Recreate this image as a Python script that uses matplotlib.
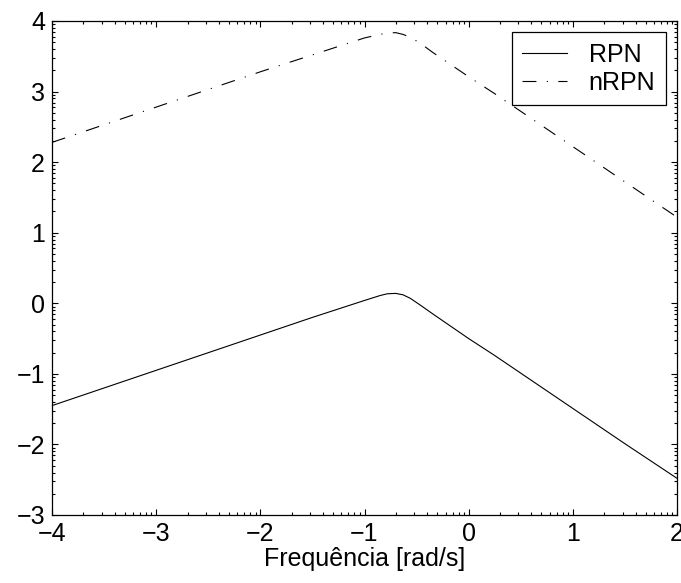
import numpy as np
import matplotlib
matplotlib.use("Agg")
import matplotlib.pyplot as plt

plt.rcParams['font.family'] = ['Liberation Sans', 'DejaVu Sans']
plt.rcParams['lines.scale_dashes'] = False

# log10 of frequency (axis is drawn in decades)
freq_log = [-4, -3, -2, -1.5, -1, -0.85, -0.78, -0.7, -0.63, -0.56,
            -0.47, -0.34, 0, 0.25, 0.5, 1, 1.5, 2]
rpn = [-1.45, -0.95, -0.45, -0.20, 0.04, 0.11, 0.135, 0.14, 0.12, 0.07,
       -0.02, -0.155, -0.50, -0.74, -0.99, -1.49, -1.99, -2.48]
nrpn = [2.28, 2.78, 3.28, 3.52, 3.76, 3.81, 3.83, 3.835, 3.81, 3.77,
        3.69, 3.55, 3.21, 2.97, 2.72, 2.22, 1.72, 1.22]

x_ticks = [-4, -3, -2, -1, 0, 1, 2]
y_ticks = [-3, -2, -1, 0, 1, 2, 3, 4]
labels = ["RPN", "nRPN"]


def minor_decades(lo, hi):
    return [d + np.log10(k) for d in range(lo, hi) for k in range(2, 10)]


FS = 18

fig = plt.figure(figsize=(6.81, 5.83), dpi=100)
ax = fig.add_axes([52 / 681, 68 / 583, 625 / 681, 494 / 583])

ax.plot(freq_log, rpn, color="black", lw=0.8, ls="-", label=labels[0])
ax.plot(freq_log, nrpn, color="black", lw=0.8,
        ls=(0, (10, 7.5, 0.8, 7.5)), label=labels[1])

ax.set_xlim(-4, 2)
ax.set_ylim(-3, 4)
ax.set_xticks(x_ticks)
ax.set_yticks(y_ticks)
ax.set_xticks(minor_decades(-4, 2), minor=True)
ax.set_yticks(minor_decades(-3, 4), minor=True)
ax.set_xticklabels([str(t).replace("-", "\u2212") for t in x_ticks])
ax.set_yticklabels([str(t).replace("-", "\u2212") for t in y_ticks])

ax.tick_params(which="both", direction="in", top=True, right=True,
               labelsize=FS, width=0.8)
ax.tick_params(which="major", length=4.5, pad=5)
ax.tick_params(which="minor", length=2.5)
for s in ax.spines.values():
    s.set_linewidth(0.9)

ax.set_xlabel("Frequência [rad/s]", fontsize=FS, labelpad=1)

leg = ax.legend(loc="upper right", fontsize=FS, fancybox=False,
                framealpha=1, edgecolor="black", handlelength=1.8,
                borderaxespad=0.45, borderpad=0.42, labelspacing=0.15,
                handletextpad=0.85)
leg.get_frame().set_linewidth(0.9)

fig.savefig("out.png", dpi=100)
